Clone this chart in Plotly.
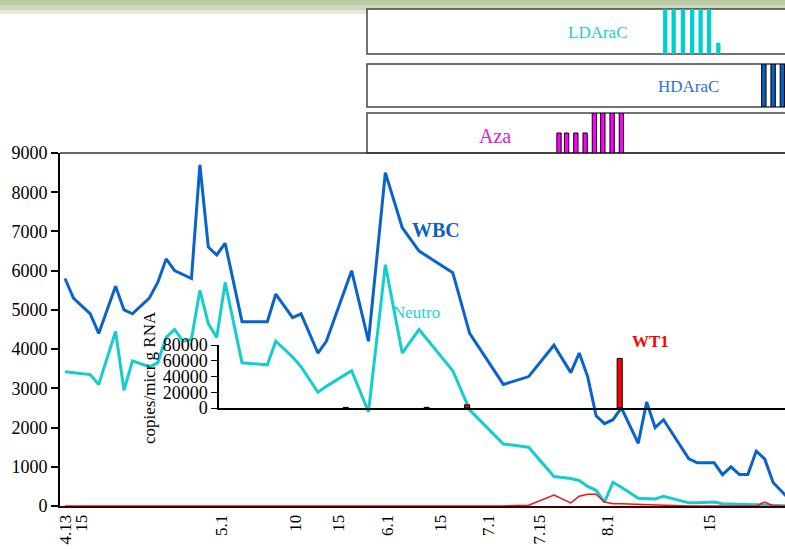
import plotly.graph_objects as go

# ---------------- data ----------------
# sample positions on the (non-uniform) day axis, in sample units
sample_pos = [0, 1, 3, 4, 6, 7, 8, 10, 11, 12, 13, 14, 15, 16, 17, 18, 19, 21, 24, 25,
              27, 28, 30, 31, 34, 36, 38, 40, 42, 46, 48, 52, 55, 58, 60, 61, 62, 63, 64, 65,
              66, 68, 69, 70, 71, 74, 75, 77, 78, 79, 80, 81, 82, 83, 84, 86]
wbc = [5800, 5300, 4900, 4400, 5600, 5000, 4900, 5300, 5700, 6300,
       6000, 5900, 5800, 8700, 6600, 6400, 6700, 4700, 4700, 5400,
       4800, 4900, 3900, 4200, 6000, 4200, 8500, 7100, 6500, 5950,
       4400, 3100, 3300, 4100, 3400, 3900, 3300, 2300, 2100, 2200,
       2500, 1600, 2650, 2000, 2200, 1200, 1100, 1100, 800, 1000,
       800, 800, 1400, 1200, 600, 150]
neutro = [3420, 3400, 3350, 3100, 4450, 2950, 3700, 3550, 3650, 4300,
          4500, 4200, 4250, 5500, 4650, 4300, 5700, 3650, 3600, 4200,
          3800, 3550, 2900, 3050, 3450, 2400, 6150, 3900, 4500, 3450,
          2450, 1580, 1500, 750, 700, 650, 500, 400, 100, 600,
          480, 200, 190, 180, 250, 80, 80, 100, 60, 50,
          40, 30, 25, 20, 0, 0]
wt1_line = [0] * 32 + [20, 280, 80, 250, 300, 300, 100, 60, 60, 50, 40, 30, 20,
                       0, 0, 0, 0, 0, 0, 0, 0, 100, 0, 0]

tick_pos = [0, 2.0, 18.6, 27.3, 32.4, 38.3, 44.5, 50.2, 56.3, 64.3, 76.5]
tick_text = ["4.13", "15", "5.1", "10", "15", "6.1", "15", "7.1", "7.15", "8.1", "15"]

wt1_ticks = [0, 20000, 40000, 60000, 80000]
wt1_pos = [33.3, 42.9, 47.7, 65.8]
wt1_val = [800, 800, 4000, 63000]

ld_pos = [71.2, 72.2, 73.3, 74.4, 75.4, 76.4, 77.5]
ld_h = [1, 1, 1, 1, 1, 1, 0.25]
hd_pos = [82.9, 84.0, 85.1]
hd_h = [1, 1, 1]
aza_pos = [58.6, 59.5, 60.6, 61.7, 62.8, 63.8, 64.9, 66.0]
aza_h = [0.5, 0.5, 0.5, 0.5, 1, 1, 1, 1]

# ---------------- layout helpers ----------------
W, H = 785, 549
UNIT, X0 = 8.43, 65


def fx(px):
    return px / W


def fy(py):
    return 1 - py / H


def xr(p0, p1):
    return [(p0 - X0) / UNIT, (p1 - X0) / UNIT]


SERIF = "Liberation Serif, Times New Roman, serif"

fig = go.Figure()

fig.add_trace(go.Scatter(x=sample_pos, y=wbc, mode="lines",
                         line=dict(color="#0a63cc", width=3), xaxis="x", yaxis="y"))
fig.add_trace(go.Scatter(x=sample_pos, y=neutro, mode="lines",
                         line=dict(color="#14cece", width=3), xaxis="x", yaxis="y"))
fig.add_trace(go.Scatter(x=sample_pos, y=wt1_line, mode="lines",
                         line=dict(color="#ff1010", width=1.5), xaxis="x", yaxis="y"))

fig.add_trace(go.Bar(x=wt1_pos, y=wt1_val, width=0.6,
                     marker=dict(color="#ff0000", line=dict(color="black", width=1)),
                     xaxis="x2", yaxis="y2"))

fig.add_trace(go.Bar(x=ld_pos, y=ld_h, width=0.51,
                     marker=dict(color="#00cfd0", line=dict(width=0)),
                     xaxis="x3", yaxis="y3"))
fig.add_trace(go.Bar(x=hd_pos, y=hd_h, width=0.52,
                     marker=dict(color="#0b5fc0", line=dict(color="black", width=1)),
                     xaxis="x4", yaxis="y4"))
fig.add_trace(go.Bar(x=aza_pos, y=aza_h, width=0.51,
                     marker=dict(color="#ff00ff", line=dict(color="black", width=1)),
                     xaxis="x5", yaxis="y5"))

hidden_x = dict(showline=False, ticks="", showticklabels=False, showgrid=False, zeroline=False,
                automargin=False)
hidden_y = dict(showline=False, ticks="", showticklabels=False, showgrid=False, zeroline=False,
                range=[0, 1], fixedrange=True, automargin=False)

shapes = [
    # decorative banner
    dict(type="rect", xref="paper", yref="paper", x0=0, x1=1, y0=fy(5), y1=fy(0),
         fillcolor="#bccaa4", line=dict(width=0), layer="below"),
    dict(type="rect", xref="paper", yref="paper", x0=0, x1=1, y0=fy(10), y1=fy(5),
         fillcolor="#ccd8b9", line=dict(width=0), layer="below"),
    dict(type="rect", xref="paper", yref="paper", x0=0, x1=1, y0=fy(14), y1=fy(10),
         fillcolor="#e5ebda", line=dict(width=0), layer="below"),
    # treatment boxes
    dict(type="rect", xref="paper", yref="paper", x0=fx(367), x1=fx(800), y0=fy(54), y1=fy(9),
         fillcolor="white", line=dict(color="#444", width=1.5), layer="below"),
    dict(type="rect", xref="paper", yref="paper", x0=fx(367), x1=fx(800), y0=fy(107), y1=fy(64),
         fillcolor="white", line=dict(color="#444", width=1.5), layer="below"),
    dict(type="rect", xref="paper", yref="paper", x0=fx(367), x1=fx(800), y0=fy(153), y1=fy(113),
         fillcolor="white", line=dict(color="#444", width=1.5), layer="below"),
    # main plot top border
    dict(type="line", xref="paper", yref="paper", x0=fx(60), x1=fx(800), y0=fy(153), y1=fy(153),
         line=dict(color="#333", width=1.5), layer="below"),
]

annotations = [
    dict(text="<b>WBC</b>", x=fx(436), y=fy(230), font=dict(family=SERIF, size=20, color="#0d5fc4")),
    dict(text="Neutro", x=fx(416), y=fy(312), font=dict(family=SERIF, size=17, color="#22d3d3")),
    dict(text="<b>WT1</b>", x=fx(650), y=fy(341), font=dict(family=SERIF, size=17, color="#ff0000")),
    dict(text="LDAraC", x=fx(597), y=fy(32), font=dict(family=SERIF, size=17, color="#1ccfcf")),
    dict(text="HDAraC", x=fx(688), y=fy(86), font=dict(family=SERIF, size=17, color="#2f6fd8")),
    dict(text="Aza", x=fx(495), y=fy(136), font=dict(family=SERIF, size=20, color="#e020d0")),
    dict(text="copies/micr g RNA", x=fx(149), y=fy(378), textangle=-90,
         font=dict(family=SERIF, size=17, color="black")),
]
for a in annotations:
    a.update(xref="paper", yref="paper", showarrow=False, xanchor="center", yanchor="middle")

fig.update_layout(
    template="none",
    width=W, height=H,
    margin=dict(l=0, r=0, t=0, b=0, pad=0),
    paper_bgcolor="white",
    plot_bgcolor="rgba(0,0,0,0)",
    showlegend=False,
    font=dict(family=SERIF, color="black"),
    shapes=shapes,
    annotations=annotations,
    xaxis=dict(domain=[fx(60), 1], range=xr(60, 785), anchor="y", automargin=False,
               showline=True, linecolor="#3a0000", linewidth=2, ticks="",
               tickmode="array", tickvals=tick_pos, ticktext=tick_text, tickangle=-90,
               tickfont=dict(family=SERIF, size=17, color="black"),
               showgrid=False, zeroline=False),
    yaxis=dict(domain=[fy(506), fy(153)], range=[0, 9000], dtick=1000, anchor="x",
               automargin=False,
               showline=True, linecolor="black", linewidth=2,
               ticks="outside", ticklen=7, tickwidth=1.5, tickcolor="black",
               tickfont=dict(family=SERIF, size=18, color="black"),
               showgrid=False, zeroline=False),
    xaxis2=dict(domain=[fx(219), 1], range=xr(219, 785), anchor="y2", automargin=False,
                showline=True, linecolor="black", linewidth=1.5, ticks="",
                showticklabels=False, showgrid=False, zeroline=False),
    yaxis2=dict(domain=[fy(408), fy(345)], range=[0, 80000], anchor="x2", automargin=False,
                tickmode="array", tickvals=wt1_ticks, ticktext=[str(v) for v in wt1_ticks],
                showline=True, linecolor="black", linewidth=1.5,
                ticks="outside", ticklen=6, tickwidth=1.2, tickcolor="black",
                tickfont=dict(family=SERIF, size=18, color="black"),
                showgrid=False, zeroline=False),
    xaxis3=dict(domain=[fx(367), 1], range=xr(367, 785), anchor="y3", **hidden_x),
    yaxis3=dict(domain=[fy(54), fy(9)], anchor="x3", **hidden_y),
    xaxis4=dict(domain=[fx(367), 1], range=xr(367, 785), anchor="y4", **hidden_x),
    yaxis4=dict(domain=[fy(107), fy(64)], anchor="x4", **hidden_y),
    xaxis5=dict(domain=[fx(367), 1], range=xr(367, 785), anchor="y5", **hidden_x),
    yaxis5=dict(domain=[fy(153), fy(113)], anchor="x5", **hidden_y),
)

fig.write_html("out.html")
